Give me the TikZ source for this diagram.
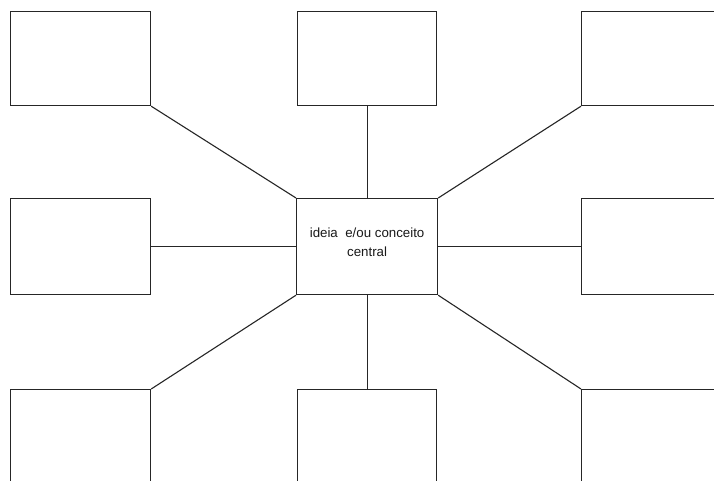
\documentclass[tikz,border=0pt]{standalone}
\usepackage{fontspec}
\setmainfont{Liberation Sans}
\begin{document}
\begin{tikzpicture}[x=1pt,y=-1pt,
  box/.style={draw=black!85, line width=1.2pt, minimum width=140pt, minimum height=94pt, inner sep=0pt, anchor=north west},
  link/.style={draw=black!85, line width=1.1pt}]
\useasboundingbox (0,0) rectangle (714,481);
\clip (0,0) rectangle (714,481);
\node[box] (tl) at (10,11) {};
\node[box, minimum width=139pt] (tc) at (297,11) {};
\node[box] (tr) at (581,11) {};
\node[box, minimum height=96pt] (ml) at (10,198) {};
\node[box, minimum height=96pt] (mr) at (581,198) {};
\node[box, minimum height=100pt] (bl) at (10,389) {};
\node[box, minimum width=139pt, minimum height=100pt] (bc) at (297,389) {};
\node[box, minimum height=100pt] (br) at (581,389) {};
\node[box, minimum width=141pt, minimum height=96pt] (c) at (296,198) {};
\node[align=center, font=\fontsize{13.3}{19}\selectfont, text=black!90, inner sep=0pt] (ct) at ([yshift=4pt]c.center) {ideia\ \ e/ou conceito\\central};
\draw[link] (tl.south east) -- (c.north west);
\draw[link] (tc.south) -- (c.north);
\draw[link] (tr.south west) -- (c.north east);
\draw[link] (ml.east) -- (c.west);
\draw[link] (mr.west) -- (c.east);
\draw[link] (bl.north east) -- (c.south west);
\draw[link] (bc.north) -- (c.south);
\draw[link] (br.north west) -- (c.south east);
\end{tikzpicture}
\end{document}
